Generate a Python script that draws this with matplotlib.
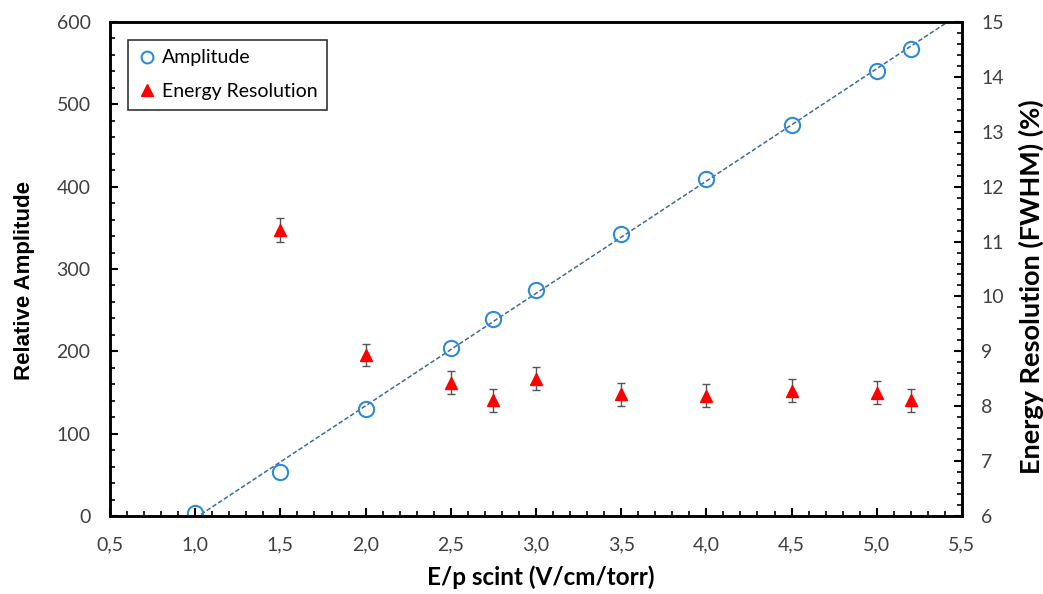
import numpy as np
from matplotlib import pyplot as plt
from matplotlib.lines import Line2D
from matplotlib.ticker import MultipleLocator, FuncFormatter

# E/p scint (V/cm/torr)
ep = [1.0, 1.5, 2.0, 2.5, 2.75, 3.0, 3.5, 4.0, 4.5, 5.0, 5.2]
amplitude = [4, 53, 130, 204, 239, 275, 343, 409, 475, 541, 567]

ep_res = [1.5, 2.0, 2.5, 2.75, 3.0, 3.5, 4.0, 4.5, 5.0, 5.2]
resolution = [11.21, 8.93, 8.43, 8.11, 8.50, 8.22, 8.19, 8.28, 8.25, 8.11]
resolution_err = [0.21, 0.2, 0.21, 0.21, 0.21, 0.21, 0.21, 0.21, 0.21, 0.21]

plt.rcParams["font.family"] = ["Lato", "DejaVu Sans"]
plt.rcParams["font.size"] = 14

fig = plt.figure(figsize=(10.43, 5.94), dpi=100)
ax = fig.add_axes([0.1055, 0.1313, 0.8168, 0.8317])
ax2 = ax.twinx()

# linear trendline of the amplitude
slope, icpt = np.polyfit(ep, amplitude, 1)
xfit = np.array([1.0, 5.5])
ax.plot(xfit, slope * xfit + icpt, ls=(0, (3, 1.5)), lw=1.1, color="#3B6AA0", zorder=2)

circ_kw = dict(marker="o", mfc="none", mec="#2E8BD6", mew=1.5)
tri_kw = dict(marker="^", color="red")
ax.plot(ep, amplitude, ls="none", ms=11, zorder=3, **circ_kw)
ax2.errorbar(ep_res, resolution, yerr=resolution_err, ls="none", ms=9, ecolor="#555555",
             elinewidth=1, capsize=3, capthick=1, zorder=3, **tri_kw)

ax.set_xlim(0.5, 5.5)
ax.set_ylim(0, 600)
ax2.set_ylim(6, 15)

ax.xaxis.set_major_locator(MultipleLocator(0.5))
ax.xaxis.set_minor_locator(MultipleLocator(0.1))
ax.xaxis.set_major_formatter(FuncFormatter(lambda v, p: f"{v:.1f}".replace(".", ",")))
ax.yaxis.set_major_locator(MultipleLocator(100))
ax.yaxis.set_minor_locator(MultipleLocator(20))
ax2.yaxis.set_major_locator(MultipleLocator(1))
ax2.yaxis.set_minor_locator(MultipleLocator(0.2))

for a in (ax, ax2):
    a.tick_params(which="major", direction="in", length=6, width=1.5, labelsize=14,
                  labelcolor="#404040", pad=14)
    a.tick_params(which="minor", direction="in", length=3.5, width=1.2)
    for s in a.spines.values():
        s.set_linewidth(1.8)
ax.tick_params(axis="x", which="both", top=False, pad=15)

ax.set_xlabel("E/p scint (V/cm/torr)", fontsize=17.5, fontweight="bold")
ax.xaxis.set_label_coords(0.506, -0.1)
ax.set_ylabel("Relative Amplitude", fontsize=16, fontweight="bold",
              family=["Liberation Sans", "DejaVu Sans"])
ax.yaxis.set_label_coords(-0.088, 0.476)
ax2.set_ylabel("Energy Resolution (FWHM) (%)", fontsize=19.5, fontweight="bold")
ax2.yaxis.set_label_coords(1.066, 0.464)

handles = [Line2D([], [], ls="none", ms=8.5, **circ_kw),
           Line2D([], [], ls="none", ms=8, **tri_kw)]
leg = ax2.legend(handles, ["Amplitude", "Energy Resolution"], loc="upper left",
                 bbox_to_anchor=(0.021, 0.964), borderaxespad=0,
                 fancybox=False, edgecolor="black", fontsize=14, handletextpad=0.25,
                 handlelength=1.0, borderpad=0.5, labelspacing=0.85)
leg.get_frame().set_linewidth(1.2)

plt.savefig("out.png", dpi=100)
